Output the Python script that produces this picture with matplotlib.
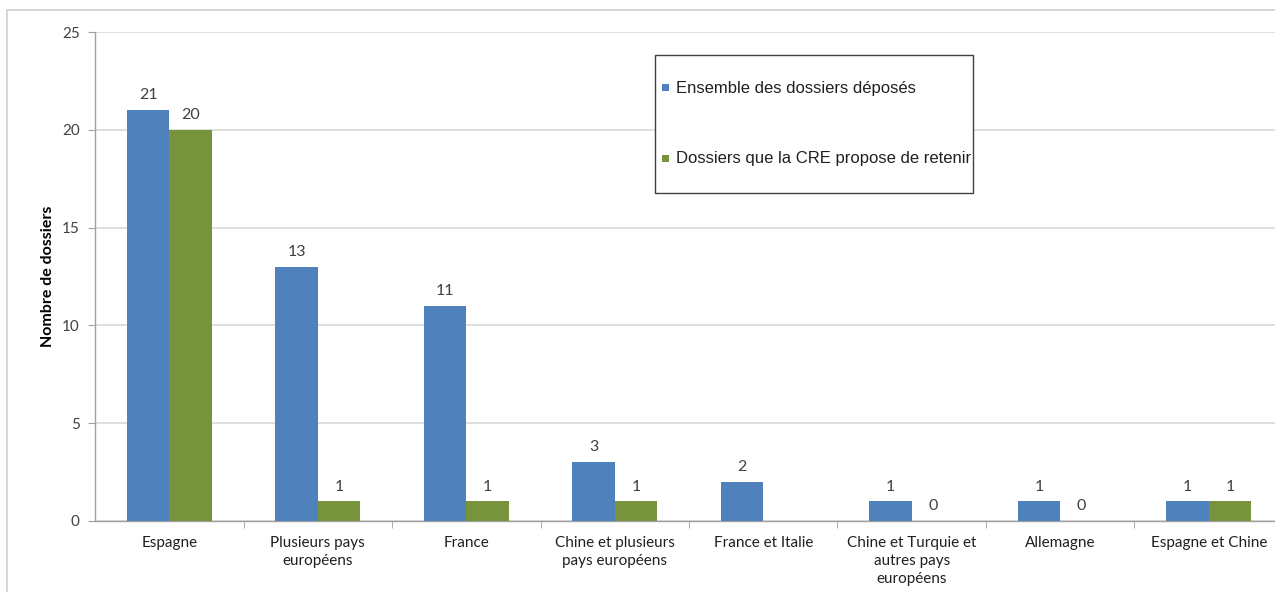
import numpy as np
import matplotlib
matplotlib.use("Agg")
import matplotlib.pyplot as plt
from matplotlib.patches import Rectangle

categories = [
    "Espagne",
    "Plusieurs pays\neuropéens",
    "France",
    "Chine et plusieurs\npays européens",
    "France et Italie",
    "Chine et Turquie et\nautres pays\neuropéens",
    "Allemagne",
    "Espagne et Chine",
]
deposes = [21, 13, 11, 3, 2, 1, 1, 1]
retenus = [20, 1, 1, 1, np.nan, 0, 0, 1]
series_names = ["Ensemble des dossiers déposés", "Dossiers que la CRE propose de retenir"]
yticks = [0, 5, 10, 15, 20, 25]

BLUE = "#4F81BD"
GREEN = "#77933C"

W, H = 1275, 592
fig = plt.figure(figsize=(W / 100, H / 100), dpi=100)

# outer chart frame
fig.patches.append(Rectangle((7 / W, -0.1), 1.2, (H - 10) / H + 0.1,
                             transform=fig.transFigure, fill=False,
                             edgecolor="#D0D0D0", linewidth=1.2))

left, right, top, bottom = 95, 1275, 32, 521
ax = fig.add_axes([left / W, 1 - bottom / H, (right - left) / W, (bottom - top) / H])

x = np.arange(len(categories))
bw = 0.285
ax.bar(x - bw / 2, deposes, bw, color=BLUE, zorder=3)
ax.bar(x + bw / 2, retenus, bw, color=GREEN, zorder=3)

label_font = dict(family="Lato", fontsize=11.5, color="#404040", ha="center", va="bottom")
for xi, v in zip(x, deposes):
    ax.text(xi - bw / 2, v + 0.4, f"{v:g}", **label_font)
for xi, v in zip(x, retenus):
    if not np.isnan(v):
        ax.text(xi + bw / 2, v + 0.4, f"{v:g}", **label_font)

px_per_cat = 148.5
ax.set_xlim(-0.5, -0.5 + (right - left) / px_per_cat)
ax.set_ylim(0, 25)
ax.set_yticks(yticks)
ax.set_yticklabels([str(t) for t in yticks], family="Lato", fontsize=11, color="#404040")
ax.yaxis.grid(True, color="#D9D9D9", linewidth=1.2, zorder=0)
ax.set_axisbelow(True)

ax.set_xticks(x)
ax.set_xticklabels(categories, family="Lato", fontsize=11, color="#202020", linespacing=1.35)
ax.tick_params(axis="x", length=0, pad=11)
ax.set_xticks(np.arange(len(categories) - 1) + 0.5, minor=True)
ax.tick_params(axis="x", which="minor", length=5, color="#A0A0A0", direction="out")
ax.tick_params(axis="y", length=5, color="#A0A0A0", direction="out", pad=6)

for s in ["top", "right"]:
    ax.spines[s].set_visible(False)
for s in ["left", "bottom"]:
    ax.spines[s].set_color("#A0A0A0")
    ax.spines[s].set_linewidth(1.0)

ax.set_ylabel("Nombre de dossiers", family="Lato", fontsize=11.5, fontweight="bold",
              color="#000000", labelpad=5)

# legend box with its two entries
lx0, ly0, lx1, ly1 = 655, 55, 973, 193
fig.patches.append(Rectangle((lx0 / W, 1 - ly1 / H), (lx1 - lx0) / W, (ly1 - ly0) / H,
                             transform=fig.transFigure, facecolor="white",
                             edgecolor="#404040", linewidth=1.0, zorder=5))
for name, color, yc in zip(series_names, (BLUE, GREEN), (88, 158)):
    fig.patches.append(Rectangle((662 / W, 1 - (yc + 3.5) / H), 7 / W, 7 / H,
                                 transform=fig.transFigure, facecolor=color,
                                 edgecolor="none", zorder=6))
    fig.text(676 / W, 1 - yc / H, name, family="Liberation Sans", fontsize=12,
             color="#202020", ha="left", va="center", zorder=6)

fig.savefig("out.png", dpi=100)
